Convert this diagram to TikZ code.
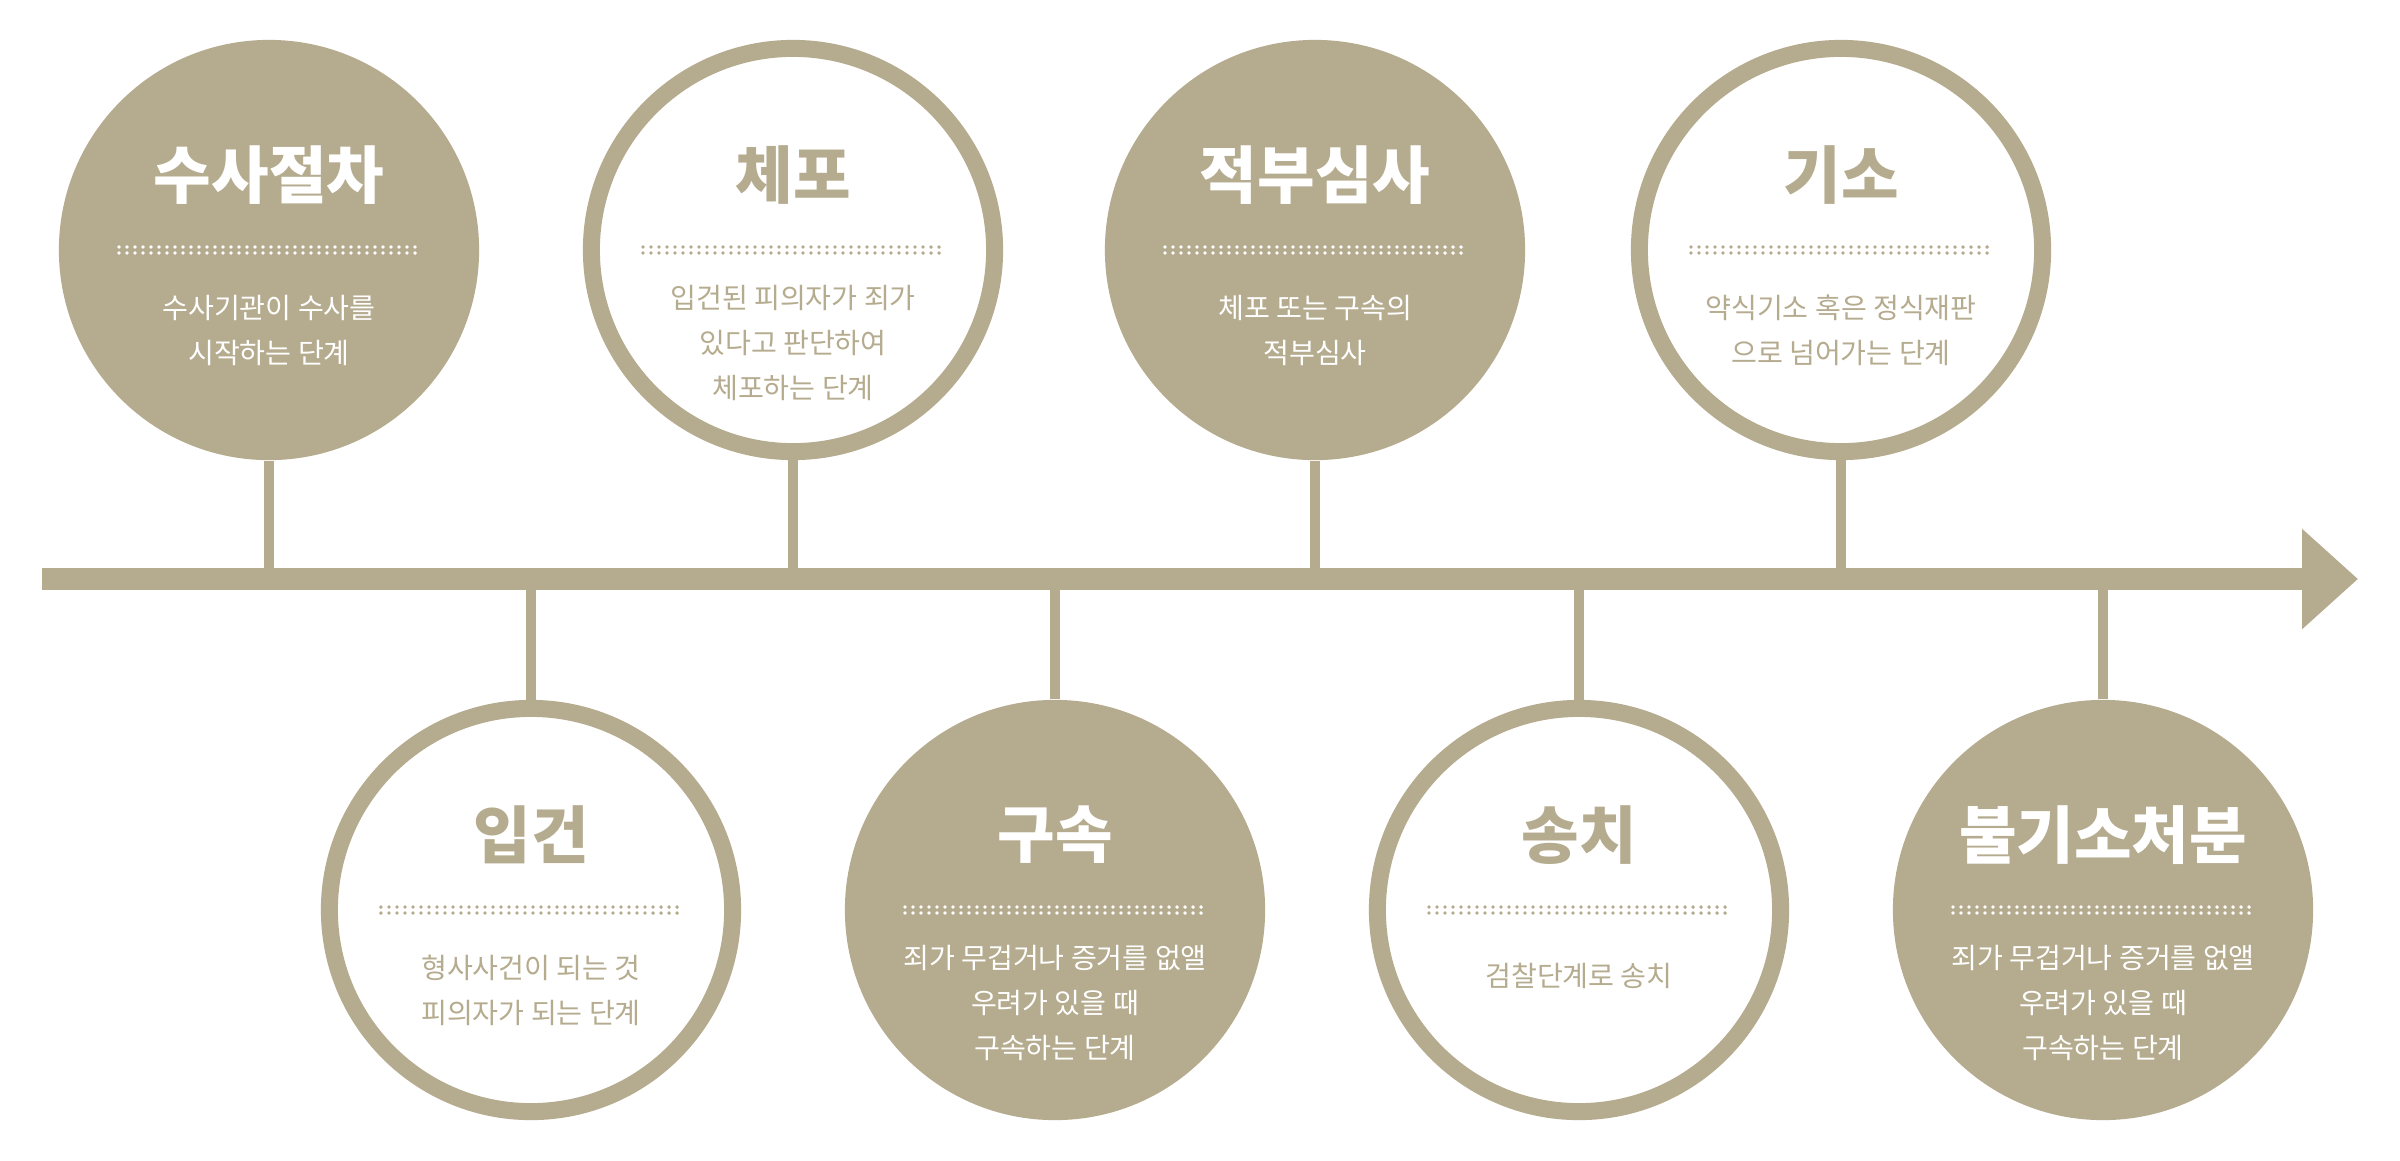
\documentclass[tikz,border=0pt]{standalone}
\usepackage{fontspec}
\setmainfont{Noto Sans CJK KR}
\usetikzlibrary{arrows.meta}
\definecolor{tan}{HTML}{B5AB8E}

\begin{document}
\begin{tikzpicture}[x=0.01cm,y=-0.01cm,
	full/.style={circle,fill=tan,minimum size=4.2cm,inner sep=0pt},
	ring/.style={circle,draw=tan,line width=1.7mm,fill=white,minimum size=4.03cm,inner sep=0pt},
	stem/.style={draw=tan,line width=1mm},
	title/.style={font=\fontsize{17.8pt}{20pt}\selectfont\bfseries,inner sep=0pt},
	body/.style={font=\fontsize{8pt}{12.8pt}\selectfont,align=center,inner sep=0pt},
	dots/.style={line width=0.38mm,line cap=round,dash pattern=on 0pt off 0.8mm}]
	\useasboundingbox (0,0) rectangle (2400,1160);
	\coordinate (start) at (42,579);
	\coordinate (end) at (2358,579);
	% circles, top row and bottom row
	\node[full] (susa) at (269,250) {};
	\node[ring] (ipgeon) at (531,910) {};
	\node[ring] (chepo) at (793,250) {};
	\node[full] (gusok) at (1055,910) {};
	\node[full] (jeokbu) at (1315,250) {};
	\node[ring] (songchi) at (1579,910) {};
	\node[ring] (giso) at (1841,250) {};
	\node[full] (bulgiso) at (2103,910) {};
	% stems
	\foreach \c in {susa,chepo,jeokbu,giso}
		\draw[stem] (\c.south) -- (\c.south |- start);
	\foreach \c in {ipgeon,gusok,songchi,bulgiso}
		\draw[stem] (\c.north) -- (\c.north |- start);
	\draw[tan,line width=2.2mm,-{Triangle[length=5.6mm,width=9.7mm]}] (start) -- (end);
	% dotted rules
	\foreach \c/\col in {susa/white,chepo/tan,jeokbu/white,giso/tan,ipgeon/tan,gusok/white,songchi/tan,bulgiso/white}{
		\draw[dots,\col] ([xshift=-1.5cm,yshift=0.3mm]\c.center) -- ([xshift=1.5cm,yshift=0.3mm]\c.center);
		\draw[dots,\col] ([xshift=-1.5cm,yshift=-0.3mm]\c.center) -- ([xshift=1.5cm,yshift=-0.3mm]\c.center);
	}
	% texts
	\node[title,white] (t1) at (269,175) {수사절차};
	\node[body,white] (b1) at (269,330) {수사기관이 수사를\\시작하는 단계};
	\node[title,tan] (t2) at (793,175) {체포};
	\node[body,tan] (b2) at (793,343) {입건된 피의자가 죄가\\있다고 판단하여\\체포하는 단계};
	\node[title,white] (t3) at (1315,175) {적부심사};
	\node[body,white] (b3) at (1315,330) {체포 또는 구속의\\적부심사};
	\node[title,tan] (t4) at (1841,175) {기소};
	\node[body,tan] (b4) at (1841,330) {약식기소 혹은 정식재판\\으로 넘어가는 단계};
	\node[title,tan] (t5) at (531,835) {입건};
	\node[body,tan] (b5) at (531,990) {형사사건이 되는 것\\피의자가 되는 단계};
	\node[title,white] (t6) at (1055,835) {구속};
	\node[body,white] (b6) at (1055,1003) {죄가 무겁거나 증거를 없앨\\우려가 있을 때\\구속하는 단계};
	\node[title,tan] (t7) at (1579,835) {송치};
	\node[body,tan] (b7) at (1579,976) {검찰단계로 송치};
	\node[title,white] (t8) at (2103,835) {불기소처분};
	\node[body,white] (b8) at (2103,1003) {죄가 무겁거나 증거를 없앨\\우려가 있을 때\\구속하는 단계};
\end{tikzpicture}
\end{document}
